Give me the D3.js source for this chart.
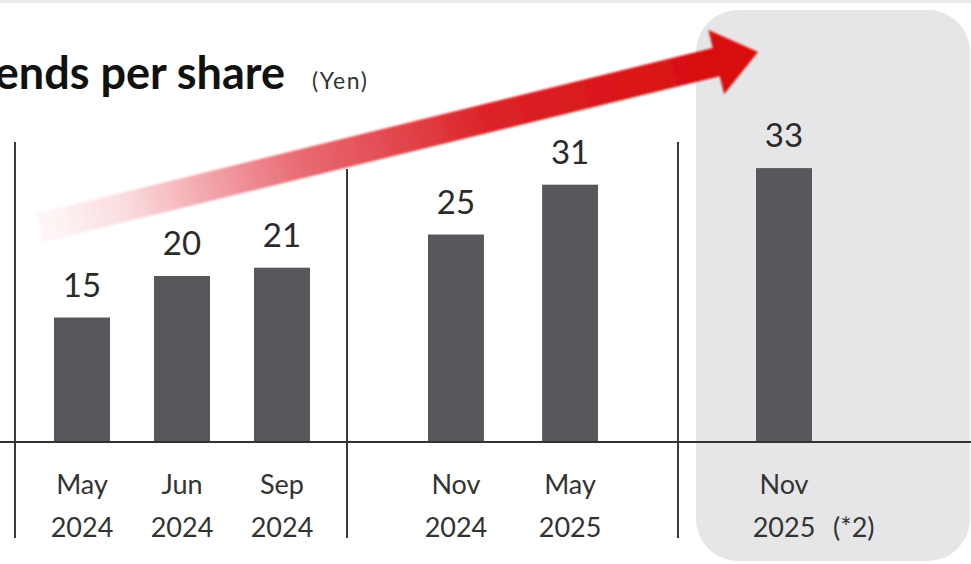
<!DOCTYPE html>
<html>
<head>
<meta charset="utf-8">
<script src="https://cdn.jsdelivr.net/npm/d3@7"></script>
<style>
  html, body { margin: 0; padding: 0; background: #fff; }
  svg { display: block; font-family: Lato, "Open Sans", sans-serif; }
</style>
</head>
<body>
<svg id="chart" width="971" height="564"></svg>
<script>
// Dividend per share (Yen), grouped by announcement period
const months = ["May", "Jun", "Sep", "Nov", "May", "Nov"];
const years = ["2024", "2024", "2024", "2024", "2025", "2025"];
const dividends = [15, 20, 21, 25, 31, 33];
const groupOf = [0, 0, 0, 1, 1, 2];
const yearNotes = ["", "", "", "", "", "(*2)"];

const W = 971, H = 564;
const svg = d3.select("#chart");

const baseY = 442;
const y = d3.scaleLinear().domain([0, 40]).range([baseY, baseY - 332]);

// each group sits between two separators and gets its own band scale
const groupRanges = [[54, 310], [428, 598], [756, 812]];
const groupPadding = [0.44, 0.51, 0];
const ids = dividends.map((d, i) => i);
const groupScales = groupRanges.map((r, g) =>
  d3.scaleBand()
    .domain(ids.filter(i => groupOf[i] === g))
    .range(r)
    .paddingInner(groupPadding[g])
    .paddingOuter(0)
);
const xLeft = i => groupScales[groupOf[i]](i);
const bw = i => groupScales[groupOf[i]].bandwidth();
const xMid = i => xLeft(i) + bw(i) / 2;

// thin rule along the top edge
svg.append("rect").attr("x", 0).attr("y", 0).attr("width", W).attr("height", 3).attr("fill", "#ececec");

// highlighted panel for the latest period
svg.append("rect")
  .attr("x", 696).attr("y", 10)
  .attr("width", 274).attr("height", 551)
  .attr("rx", 42).attr("ry", 42)
  .attr("fill", "#e6e6e8");

// title (runs off the left edge of the panel)
svg.append("text")
  .attr("x", 285).attr("y", 89)
  .attr("text-anchor", "end")
  .attr("font-size", 45).attr("font-weight", 700)
  .attr("fill", "#111")
  .text("Dividends per share");
svg.append("text")
  .attr("x", 312).attr("y", 89)
  .attr("font-size", 23)
  .attr("letter-spacing", 1.5)
  .attr("fill", "#333")
  .text("(Yen)");

// growth arrow with fading tail
const tail = [xLeft(0) - 14, y(25.8)];
const tip = [xLeft(5) + 2, y(47.0)];
const dx = tip[0] - tail[0], dy = tip[1] - tail[1];
const len = Math.hypot(dx, dy);
const ux = dx / len, uy = dy / len, nx = -uy, ny = ux;
const headLen = 43, headHalf = 33, shaftHalf = 14.5;
const pt = (along, across) => [tail[0] + ux * along + nx * across, tail[1] + uy * along + ny * across];
const arrowPts = [
  pt(0, -shaftHalf), pt(len - headLen, -shaftHalf), pt(len - headLen, -headHalf),
  pt(len, 0),
  pt(len - headLen, headHalf), pt(len - headLen, shaftHalf), pt(0, shaftHalf)
];
const defs = svg.append("defs");
const grad = defs.append("linearGradient")
  .attr("id", "arrowFill")
  .attr("gradientUnits", "userSpaceOnUse")
  .attr("x1", tail[0]).attr("y1", tail[1])
  .attr("x2", tip[0]).attr("y2", tip[1]);
[[0, "#e63b47", 0.03], [0.12, "#e63b47", 0.18], [0.36, "#e2424d", 0.78], [0.62, "#dc2328", 1], [1, "#d80a0a", 1]]
  .forEach(([o, c, a]) => grad.append("stop").attr("offset", o).attr("stop-color", c).attr("stop-opacity", a));
defs.append("filter").attr("id", "soft")
  .append("feGaussianBlur").attr("stdDeviation", 0.8);
svg.append("path")
  .attr("d", d3.line()(arrowPts) + "Z")
  .attr("fill", "url(#arrowFill)")
  .attr("filter", "url(#soft)");

// group separators
const separators = [[15, 142], [347, 169], [678, 142]];
svg.selectAll("line.sep").data(separators).join("line")
  .attr("class", "sep")
  .attr("x1", d => d[0]).attr("x2", d => d[0])
  .attr("y1", d => d[1]).attr("y2", 538)
  .attr("stroke", "#3a3a3a").attr("stroke-width", 2);

// bars
svg.selectAll("rect.bar").data(ids).join("rect")
  .attr("class", "bar")
  .attr("x", i => xLeft(i))
  .attr("width", i => bw(i))
  .attr("y", i => y(dividends[i]))
  .attr("height", i => y(0) - y(dividends[i]))
  .attr("fill", "#58585c");

// baseline
svg.append("line")
  .attr("x1", 0).attr("x2", W)
  .attr("y1", y(0)).attr("y2", y(0))
  .attr("stroke", "#333").attr("stroke-width", 2);

// value labels
svg.selectAll("text.val").data(ids).join("text")
  .attr("class", "val")
  .attr("x", i => xMid(i))
  .attr("y", i => y(dividends[i]) - 21)
  .attr("text-anchor", "middle")
  .attr("font-size", 33)
  .attr("fill", "#2a2a2a")
  .text(i => dividends[i]);

// category labels: month over year
svg.selectAll("text.mon").data(ids).join("text")
  .attr("class", "mon")
  .attr("x", i => xMid(i))
  .attr("y", 494)
  .attr("text-anchor", "middle")
  .attr("font-size", 27)
  .attr("fill", "#333")
  .text(i => months[i]);
svg.selectAll("text.yr").data(ids).join("text")
  .attr("class", "yr")
  .attr("x", i => xMid(i))
  .attr("y", 537)
  .attr("text-anchor", "middle")
  .attr("font-size", 27)
  .attr("fill", "#333")
  .text(i => years[i]);
svg.selectAll("text.note").data(ids.filter(i => yearNotes[i])).join("text")
  .attr("class", "note")
  .attr("x", i => xMid(i) + 49)
  .attr("y", 537)
  .attr("font-size", 27)
  .attr("fill", "#333")
  .text(i => yearNotes[i]);
</script>
</body>
</html>
